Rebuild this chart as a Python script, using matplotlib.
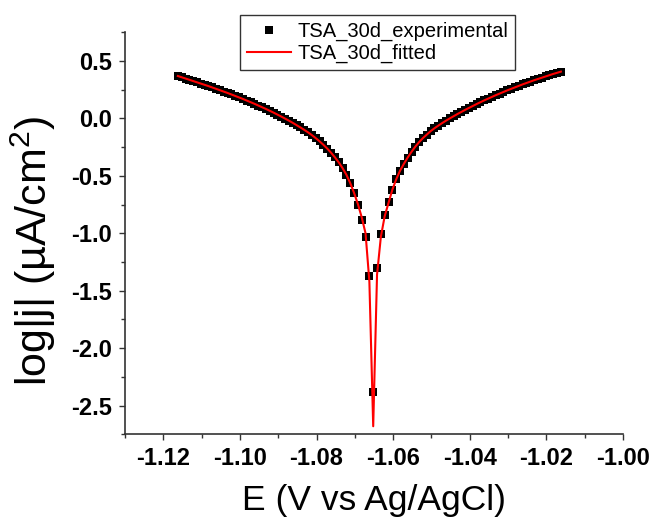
"""
Tafel plot, TSA 30 d sample: experimental points + fitted curve.
"""
import matplotlib
matplotlib.use('Agg')
import matplotlib.pyplot as plt
from matplotlib.ticker import MultipleLocator

plt.rcParams['font.family'] = ['Liberation Sans', 'DejaVu Sans']
plt.rcParams['mathtext.fontset'] = 'custom'
plt.rcParams['mathtext.rm'] = 'Liberation Sans'
plt.rcParams['mathtext.it'] = 'Liberation Sans:italic'

# potential (V vs Ag/AgCl)
E = [-1.1162, -1.1152, -1.1142, -1.1132, -1.1122, -1.1112, -1.1102, -1.1092, -1.1082, -1.1072,
     -1.1062, -1.1052, -1.1042, -1.1032, -1.1022, -1.1012, -1.1002, -1.0992, -1.0982, -1.0972,
     -1.0962, -1.0952, -1.0942, -1.0932, -1.0922, -1.0912, -1.0902, -1.0892, -1.0882, -1.0872,
     -1.0862, -1.0852, -1.0842, -1.0832, -1.0822, -1.0812, -1.0802, -1.0792, -1.0782, -1.0772,
     -1.0762, -1.0752, -1.0742, -1.0732, -1.0722, -1.0712, -1.0702, -1.0692, -1.0682, -1.0672,
     -1.0662, -1.0652, -1.0642, -1.0632, -1.0622, -1.0612, -1.0602, -1.0592, -1.0582, -1.0572,
     -1.0562, -1.0552, -1.0542, -1.0532, -1.0522, -1.0512, -1.0502, -1.0492, -1.0482, -1.0472,
     -1.0462, -1.0452, -1.0442, -1.0432, -1.0422, -1.0412, -1.0402, -1.0392, -1.0382, -1.0372,
     -1.0362, -1.0352, -1.0342, -1.0332, -1.0322, -1.0312, -1.0302, -1.0292, -1.0282, -1.0272,
     -1.0262, -1.0252, -1.0242, -1.0232, -1.0222, -1.0212, -1.0202, -1.0192, -1.0182, -1.0172,
     -1.0162]

# log|j| measured
logj_exp = [0.370, 0.359, 0.348, 0.337, 0.326, 0.315, 0.304, 0.293, 0.282, 0.270,
            0.258, 0.246, 0.234, 0.222, 0.209, 0.196, 0.183, 0.170, 0.156, 0.142,
            0.128, 0.113, 0.098, 0.083, 0.067, 0.051, 0.034, 0.017, -0.001, -0.019,
            -0.038, -0.058, -0.078, -0.099, -0.121, -0.145, -0.171, -0.199, -0.229, -0.262,
            -0.298, -0.338, -0.382, -0.432, -0.490, -0.562, -0.650, -0.755, -0.880, -1.030,
            -1.370, -2.380, -1.300, -1.010, -0.840, -0.730, -0.620, -0.530, -0.455, -0.395,
            -0.340, -0.290, -0.245, -0.205, -0.170, -0.140, -0.110, -0.085, -0.062, -0.040,
            -0.019, 0.001, 0.020, 0.039, 0.057, 0.075, 0.092, 0.109, 0.126, 0.142,
            0.158, 0.173, 0.188, 0.203, 0.217, 0.231, 0.245, 0.258, 0.271, 0.284,
            0.297, 0.309, 0.321, 0.333, 0.344, 0.355, 0.366, 0.377, 0.388, 0.398,
            0.408]

# log|j| fitted
logj_fit = [0.370, 0.359, 0.348, 0.337, 0.326, 0.315, 0.304, 0.293, 0.282, 0.270,
            0.258, 0.246, 0.234, 0.222, 0.209, 0.196, 0.183, 0.170, 0.156, 0.142,
            0.128, 0.113, 0.098, 0.083, 0.067, 0.051, 0.034, 0.017, -0.001, -0.019,
            -0.038, -0.058, -0.078, -0.099, -0.121, -0.145, -0.171, -0.199, -0.229, -0.262,
            -0.298, -0.338, -0.382, -0.432, -0.490, -0.562, -0.648, -0.745, -0.860, -1.000,
            -1.420, -2.680, -1.360, -1.030, -0.850, -0.735, -0.620, -0.530, -0.455, -0.395,
            -0.340, -0.290, -0.245, -0.205, -0.170, -0.140, -0.110, -0.085, -0.062, -0.040,
            -0.019, 0.001, 0.020, 0.039, 0.057, 0.075, 0.092, 0.109, 0.126, 0.142,
            0.158, 0.173, 0.188, 0.203, 0.217, 0.231, 0.245, 0.258, 0.271, 0.284,
            0.297, 0.309, 0.321, 0.333, 0.344, 0.355, 0.366, 0.377, 0.388, 0.398,
            0.408]

fig = plt.figure(figsize=(6.53, 5.22), dpi=100)
ax = fig.add_axes([0.1914, 0.168, 0.7626, 0.770])

ax.plot(E, logj_exp, ls='none', marker='s', ms=6, mew=0, color='black',
        label='TSA_30d_experimental', zorder=2)
ax.plot(E, logj_fit, color='red', lw=1.5, label='TSA_30d_fitted', zorder=3)

ax.set_xlim(-1.13, -1.00)
ax.set_ylim(-2.75, 0.75)
ax.xaxis.set_major_locator(MultipleLocator(0.02))
ax.xaxis.set_minor_locator(MultipleLocator(0.01))
ax.yaxis.set_major_locator(MultipleLocator(0.5))
ax.yaxis.set_minor_locator(MultipleLocator(0.25))
ax.xaxis.set_major_formatter(plt.FuncFormatter(lambda v, p: f'{v:.2f}'))
ax.yaxis.set_major_formatter(plt.FuncFormatter(lambda v, p: f'{v:.1f}'))

for s in ('top', 'right'):
    ax.spines[s].set_visible(False)
for s in ('left', 'bottom'):
    ax.spines[s].set_linewidth(1.2)
    ax.spines[s].set_color('#333333')
ax.tick_params(which='major', direction='out', length=4.5, width=1, color='#333333',
               labelsize=17, pad=5)
ax.tick_params(which='minor', direction='out', length=3, width=1, color='#333333')
for lab in ax.get_xticklabels() + ax.get_yticklabels():
    lab.set_fontweight('bold')

ax.set_xlabel('E (V vs Ag/AgCl)', fontsize=25.5, labelpad=10)
ax.set_ylabel('log|j| (µA/cm$^2$)', fontsize=31, va='center')
ax.yaxis.set_label_coords(-0.185, 0.456)

leg = fig.legend(loc='upper left', bbox_to_anchor=(0.3675, 0.972), fontsize=14.5,
                 frameon=True, fancybox=False, edgecolor='#333333', framealpha=1,
                 borderpad=0.35, labelspacing=0.15, handlelength=2.2, handletextpad=0.3,
                 borderaxespad=0)
leg.get_frame().set_linewidth(1.0)

plt.savefig('out.png', dpi=100)
plt.close()
